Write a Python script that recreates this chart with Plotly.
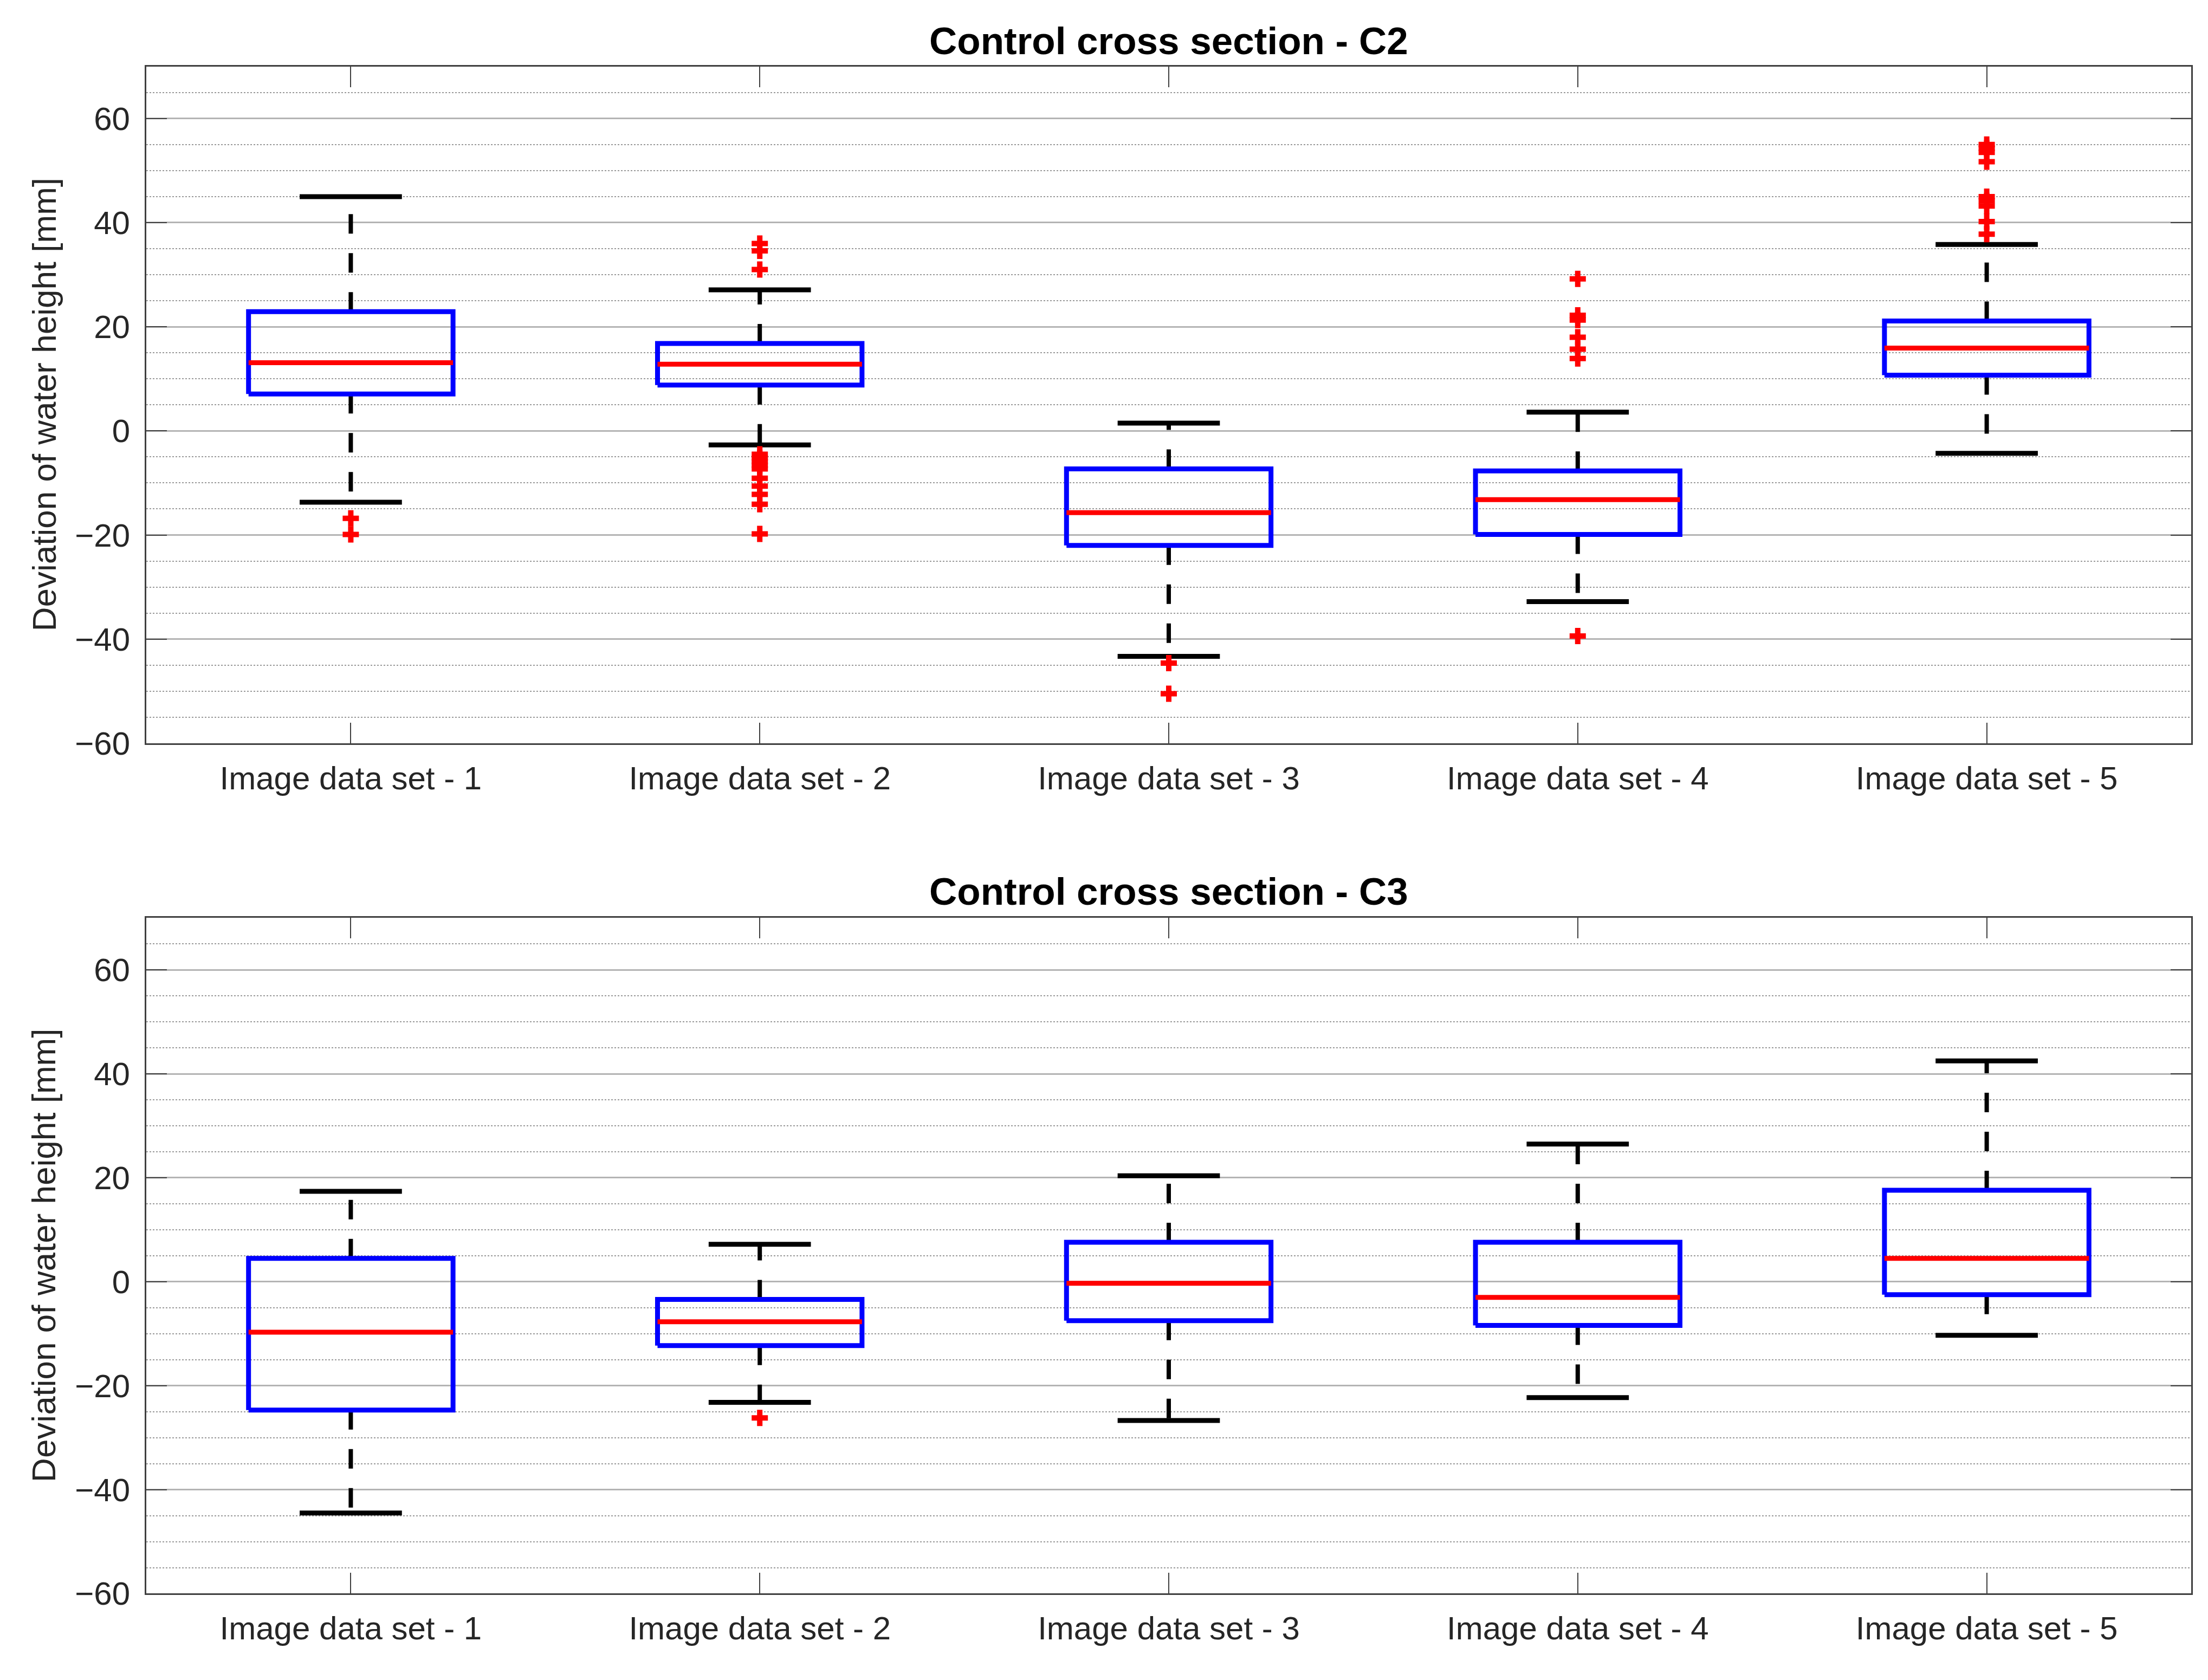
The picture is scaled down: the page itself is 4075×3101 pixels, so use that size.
import plotly.graph_objects as go

# Datos (mm)
CATEGORIAS = ["Image data set - 1", "Image data set - 2", "Image data set - 3",
              "Image data set - 4", "Image data set - 5"]

# Control cross section - C2
C2_LO = [-13.7, -2.7, -43.3, -32.8, -4.3]
C2_Q1 = [7.1, 8.8, -22.0, -19.9, 10.7]
C2_MED = [13.1, 12.8, -15.7, -13.2, 15.9]
C2_Q3 = [22.9, 16.8, -7.3, -7.7, 21.1]
C2_HI = [45.0, 27.1, 1.5, 3.6, 35.8]
C2_OUT = [
    [-16.8, -19.9],
    [36.0, 34.6, 31.0, -4.5, -5.2, -5.9, -6.6, -7.3, -9.1, -10.6, -12.2, -14.1, -19.8],
    [-44.6, -50.5],
    [29.2, 22.2, 21.3, 18.0, 15.7, 13.9, -39.4],
    [55.0, 54.3, 53.5, 51.7, 45.0, 44.2, 43.2, 40.2, 37.8],
]

# Control cross section - C3
C3_LO = [-44.5, -23.2, -26.7, -22.3, -10.3]
C3_Q1 = [-24.7, -12.3, -7.5, -8.4, -2.5]
C3_MED = [-9.7, -7.7, -0.3, -3.0, 4.5]
C3_Q3 = [4.5, -3.4, 7.6, 7.6, 17.6]
C3_HI = [17.4, 7.2, 20.4, 26.5, 42.5]
C3_OUT = [[], [-26.2], [], [], []]

Y_TICKS = [-60, -40, -20, 0, 20, 40, 60]

W, H = 4075, 3101
FONT = "Liberation Sans, Arial, sans-serif"
TXT = "#262626"


def trazas_boxplot(lo, q1, med, q3, hi, outs, xa, ya):
    """Construye un boxplot estilo MATLAB con trazas Scatter"""
    bw, cw = 0.25, 0.125
    wx, wy, cx, cy, bx, by, mx, my, ox, oy = ([] for _ in range(10))
    for i in range(len(lo)):
        x = i + 1
        wx += [x, x, None, x, x, None]
        wy += [q3[i], hi[i], None, q1[i], lo[i], None]
        cx += [x - cw, x + cw, None, x - cw, x + cw, None]
        cy += [hi[i], hi[i], None, lo[i], lo[i], None]
        bx += [x - bw, x + bw, x + bw, x - bw, x - bw, None]
        by += [q1[i], q1[i], q3[i], q3[i], q1[i], None]
        mx += [x - bw, x + bw, None]
        my += [med[i], med[i], None]
        ox += [x] * len(outs[i])
        oy += outs[i]
    comun = dict(xaxis=xa, yaxis=ya, showlegend=False, hoverinfo="skip")
    return [
        go.Scatter(x=wx, y=wy, mode="lines",
                   line=dict(color="black", width=8, dash="36px,36px"), **comun),
        go.Scatter(x=cx, y=cy, mode="lines",
                   line=dict(color="black", width=9), **comun),
        go.Scatter(x=bx, y=by, mode="lines",
                   line=dict(color="#0000ff", width=9), **comun),
        go.Scatter(x=mx, y=my, mode="lines",
                   line=dict(color="#ff0000", width=9), **comun),
        go.Scatter(x=ox, y=oy, mode="markers",
                   marker=dict(symbol="cross", size=25, color="#ff0000"), **comun),
    ]


fig = go.Figure()
for t in trazas_boxplot(C2_LO, C2_Q1, C2_MED, C2_Q3, C2_HI, C2_OUT, "x", "y"):
    fig.add_trace(t)
for t in trazas_boxplot(C3_LO, C3_Q1, C3_MED, C3_Q3, C3_HI, C3_OUT, "x2", "y2"):
    fig.add_trace(t)

x0, x1 = 262 / W, 4036 / W
dom_top = [1 - 1379 / H, 1 - 116 / H]
dom_bot = [1 - 2966 / H, 1 - 1705 / H]

eje_x = dict(
    range=[0.5, 5.5], tickvals=[1, 2, 3, 4, 5], ticktext=CATEGORIAS,
    domain=[x0, x1], showgrid=False, zeroline=False,
    showline=True, linecolor="#404040", linewidth=3, mirror="ticks",
    ticks="inside", ticklen=38, tickwidth=2, tickcolor="#404040",
    tickfont=dict(family=FONT, size=60, color=TXT), ticklabelstandoff=10,
)
eje_y = dict(
    range=[-60, 70], tickvals=Y_TICKS, zeroline=False,
    showgrid=True, gridcolor="#b4b4b4", gridwidth=3,
    minor=dict(dtick=5, tick0=0, showgrid=True, gridcolor="#9a9a9a",
               griddash="dot", gridwidth=2),
    showline=True, linecolor="#404040", linewidth=3, mirror="ticks",
    ticks="inside", ticklen=38, tickwidth=2, tickcolor="#404040",
    tickfont=dict(family=FONT, size=60, color=TXT), ticklabelstandoff=15,
)

fig.update_layout(
    width=W, height=H,
    margin=dict(l=0, r=0, t=0, b=0),
    plot_bgcolor="white", paper_bgcolor="white",
    xaxis=dict(eje_x, anchor="y"),
    yaxis=dict(eje_y, domain=dom_top, anchor="x"),
    xaxis2=dict(eje_x, anchor="y2"),
    yaxis2=dict(eje_y, domain=dom_bot, anchor="x2"),
)

xc = (x0 + x1) / 2
for titulo, yt in [("Control cross section - C2", 1 - 68 / H),
                   ("Control cross section - C3", 1 - 1656 / H)]:
    fig.add_annotation(x=xc, y=yt, xref="paper", yref="paper", showarrow=False,
                       text=f"<b>{titulo}</b>", xanchor="center", yanchor="middle",
                       font=dict(family=FONT, size=71, color="black"))

for dom in (dom_top, dom_bot):
    fig.add_annotation(x=73 / W, y=sum(dom) / 2, xref="paper", yref="paper",
                       showarrow=False, text="Deviation of water height [mm]",
                       textangle=-90, xanchor="center", yanchor="middle",
                       font=dict(family=FONT, size=62, color=TXT))

fig.write_html("out.html")
